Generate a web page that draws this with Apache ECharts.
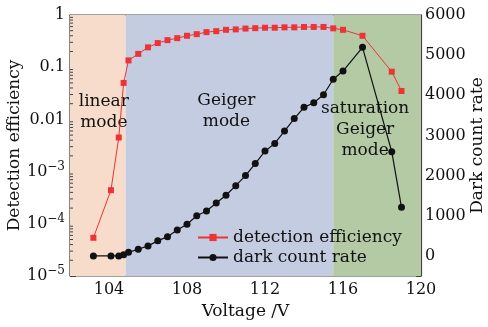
<!DOCTYPE html>
<html>
<head>
<meta charset="utf-8">
<script src="https://cdn.jsdelivr.net/npm/echarts@6/dist/echarts.min.js"></script>
<style>
  html, body { margin: 0; padding: 0; background: #fff; }
  #chart { width: 488px; height: 327px; }
</style>
</head>
<body>
<div id="chart"></div>
<script>
var voltage = [103.2, 104.1, 104.5, 104.75, 105, 105.5, 106, 106.5, 107, 107.5, 108, 108.5, 109, 109.5, 110, 110.5, 111, 111.5, 112, 112.5, 113, 113.5, 114, 114.5, 115, 115.5, 116, 117, 118.5, 119]
var efficiency = [5.4e-5, 4.4e-4, 4.5e-3, 0.05, 0.135, 0.18, 0.24, 0.29, 0.33, 0.36, 0.40, 0.43, 0.47, 0.49, 0.52, 0.53, 0.55, 0.56, 0.57, 0.57, 0.58, 0.58, 0.59, 0.59, 0.59, 0.555, 0.52, 0.40, 0.082, 0.035]
var darkCount = [0, 0, 0, 30, 90, 165, 250, 375, 480, 645, 790, 1000, 1120, 1320, 1510, 1750, 2000, 2300, 2610, 2800, 3110, 3420, 3700, 3815, 4015, 4400, 4605, 5195, 2595, 1210]
var regionEdges = [102, 104.85, 115.5, 120]
var regionNames = ['linear\nmode', 'Geiger\nmode', 'saturation\nGeiger\nmode']
var regionColors = ['#f7dccb', '#c4cce2', '#b3caa5']
var regionLabelOffsets = [[6, -33], [-3, -34], [-12, -16]]

var FONT = 'DejaVu Serif'
var chart = echarts.init(document.getElementById('chart'))

// 对数轴的次刻度 2..9
var minorTicks = []
for (var e = -5; e < 0; e++) {
  for (var k = 2; k <= 9; k++) minorTicks.push([regionEdges[0], k * Math.pow(10, e)])
}

var areas = regionNames.map(function (name, i) {
  return [{
    xAxis: regionEdges[i],
    name: name,
    itemStyle: { color: regionColors[i], opacity: 1 },
    label: { offset: regionLabelOffsets[i] }
  }, { xAxis: regionEdges[i + 1] }]
})

var option = {
  animation: false,
  textStyle: { fontFamily: FONT, color: '#111' },
  grid: {
    left: 70, right: 67, top: 15, bottom: 51,
    outerBoundsMode: 'none', containLabel: false,
    show: true, borderColor: '#444', borderWidth: 1.2
  },
  legend: {
    data: ['detection efficiency', 'dark count rate'],
    orient: 'vertical',
    left: 192,
    top: 224,
    itemGap: 3,
    itemWidth: 30,
    itemHeight: 9,
    textStyle: { fontFamily: FONT, fontSize: 17, color: '#111' }
  },
  xAxis: [{
    type: 'value',
    min: 102,
    max: 120,
    interval: 2,
    name: 'Voltage /V',
    nameLocation: 'middle',
    nameGap: 27,
    nameMoveOverlap: false,
    nameTextStyle: { fontFamily: FONT, fontSize: 17, color: '#111' },
    axisLine: { lineStyle: { color: '#444', width: 1.2 } },
    axisTick: { inside: true, length: 5, lineStyle: { color: '#444' } },
    axisLabel: {
      fontFamily: FONT, fontSize: 16, color: '#111', margin: 6,
      formatter: function (v) { return v % 4 === 0 && v > 102 ? String(v) : '' }
    },
    splitLine: { show: false }
  }, {
    type: 'value',
    position: 'top',
    min: 102,
    max: 120,
    interval: 2,
    axisLine: { lineStyle: { color: '#444', width: 1.2 } },
    axisTick: { inside: true, length: 5, lineStyle: { color: '#444' } },
    axisLabel: { show: false },
    splitLine: { show: false }
  }],
  yAxis: [{
    type: 'log',
    logBase: 10,
    min: 1e-5,
    max: 1,
    name: 'Detection efficiency',
    nameLocation: 'middle',
    nameGap: 47,
    nameMoveOverlap: false,
    nameTextStyle: { fontFamily: FONT, fontSize: 17, color: '#111' },
    axisLine: { lineStyle: { color: '#444', width: 1.2 } },
    axisTick: { inside: true, length: 6, lineStyle: { color: '#444' } },
    axisLabel: {
      fontFamily: FONT, fontSize: 16, color: '#111', margin: 5,
      formatter: function (v) {
        var p = Math.round(Math.log10(v))
        if (p >= -2) return '{b|' + (p === 0 ? '1' : p === -1 ? '0.1' : '0.01') + '}'
        return '{b|10}{sup|\u2212' + (-p) + '}'
      },
      rich: {
        b: { fontFamily: FONT, fontSize: 16, color: '#111' },
        sup: { fontFamily: FONT, fontSize: 12, color: '#111', padding: [0, 0, 10, 0] }
      }
    },
    splitLine: { show: false }
  }, {
    type: 'value',
    min: -500,
    max: 6000,
    interval: 500,
    position: 'right',
    name: 'Dark count rate',
    nameLocation: 'middle',
    nameGap: 48,
    nameRotate: 90,
    nameMoveOverlap: false,
    nameTextStyle: { fontFamily: FONT, fontSize: 17, color: '#111' },
    axisLine: { show: true, lineStyle: { color: '#444', width: 1.2 } },
    axisTick: { inside: true, length: 5, lineStyle: { color: '#444' } },
    axisLabel: {
      fontFamily: FONT, fontSize: 16, color: '#111', margin: 4,
      formatter: function (v) { return v >= 0 && v % 1000 === 0 ? String(v) : '' }
    },
    splitLine: { show: false }
  }],
  series: [{
    name: 'detection efficiency',
    type: 'line',
    xAxisIndex: 0,
    yAxisIndex: 0,
    data: voltage.map(function (v, i) { return [v, efficiency[i]] }),
    symbol: 'rect',
    symbolSize: 6,
    itemStyle: { color: '#ee3334' },
    lineStyle: { color: '#ee3334', width: 1 },
    z: 3,
    markArea: {
      silent: true,
      label: {
        show: true,
        position: 'inside',
        fontFamily: FONT,
        fontSize: 17,
        lineHeight: 21,
        color: '#111'
      },
      data: areas
    }
  }, {
    name: 'dark count rate',
    type: 'line',
    xAxisIndex: 0,
    yAxisIndex: 1,
    data: voltage.map(function (v, i) { return [v, darkCount[i]] }),
    symbol: 'circle',
    symbolSize: 7,
    itemStyle: { color: '#111' },
    lineStyle: { color: '#111', width: 1.2 },
    z: 4
  }, {
    type: 'custom',
    xAxisIndex: 0,
    yAxisIndex: 0,
    silent: true,
    data: minorTicks,
    z: 5,
    renderItem: function (params, api) {
      var y = api.coord([api.value(0), api.value(1)])[1]
      var x0 = params.coordSys.x
      return {
        type: 'line',
        shape: { x1: x0, y1: y, x2: x0 + 3, y2: y },
        style: { stroke: '#444', lineWidth: 1 }
      }
    }
  }]
}

chart.setOption(option)
</script>
</body>
</html>
